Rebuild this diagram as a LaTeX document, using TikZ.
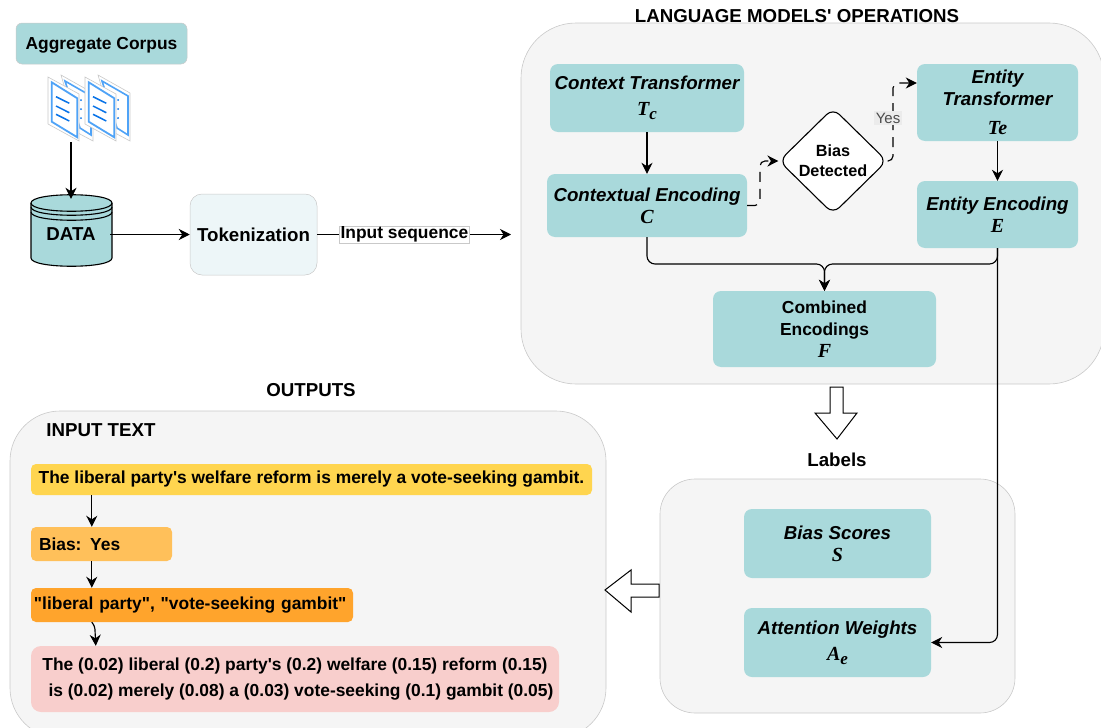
\documentclass[tikz,border=0pt]{standalone}
\usepackage{fontspec}
\setmainfont{Liberation Sans}[Ligatures=TeXOff]
\newfontfamily\symbfont[BoldItalicFont={Liberation Serif Bold Italic}]{Liberation Serif}
\usetikzlibrary{arrows.meta,shapes.geometric}
\definecolor{tealbox}{HTML}{A9D9DB}
\definecolor{panelgrey}{HTML}{F5F5F5}
\definecolor{panelline}{HTML}{C9C9C9}
\definecolor{tokenfill}{HTML}{EDF6F8}
\definecolor{pageblue}{HTML}{4FA3F7}
\definecolor{lineblue}{HTML}{0A74E8}
\definecolor{inputyellow}{HTML}{FFD54F}
\definecolor{biasorange}{HTML}{FFC05A}
\definecolor{phraseorange}{HTML}{FFA42C}
\definecolor{weightpink}{HTML}{F8CECC}
\newcommand{\symb}[1]{{\symbfont\bfseries\itshape\fontsize{20}{22}\selectfont #1}}
\newcommand{\symbsub}[2]{{\symbfont\bfseries\itshape\fontsize{20}{22}\selectfont #1\raisebox{-4pt}{\fontsize{17}{20}\selectfont #2}}}
\tikzset{
  docpages/.pic={
    \draw[draw=panelline,fill=white,line width=.6pt] (13,0) -- (45,18) -- (45,66) -- (30,58) -- cycle;
    \draw[draw=pageblue,fill=white,line width=1.6pt] (17,6) -- (43,21) -- (43,60) -- (32,53) -- cycle;
    \fill[lineblue] (33,25) circle (1pt) (33,34) circle (1pt) (33,43) circle (1pt);
    \draw[draw=panelline,fill=white,line width=.6pt] (0,2) -- (31,19) -- (31,66) -- (0,49) -- cycle;
    \draw[draw=pageblue,fill=white,line width=1.8pt] (3.7,7.3) -- (29.3,23.3) -- (29.3,62.3) -- (3.7,46.7) -- cycle;
    \draw[draw=lineblue,line width=1.5pt] (8,21.7) -- (21.3,28.3) (8,31) -- (21.3,37.7) (8,39.3) -- (21.3,46);
  }
}
\begin{document}
\begin{tikzpicture}[x=1pt,y=-1pt,
    font=\fontsize{18.7}{22}\selectfont\bfseries,
    smalltext/.style={font=\fontsize{17.4}{22}\selectfont\bfseries},
    panel/.style={draw=panelline,fill=panelgrey,line width=.6pt},
    tealnode/.style={fill=tealbox,rounded corners=8pt,inner sep=0pt,align=center},
    outnode/.style={smalltext,rounded corners=5pt,inner sep=0pt,align=center},
    hollow/.style={draw=black,fill=white,line width=1pt},
    link/.style={draw=black,line width=1.15pt,-{Stealth[length=11pt,width=11pt,inset=3.5pt]}},
    dashlink/.style={link,dash pattern=on 10pt off 7pt,rounded corners=5pt}]
  \useasboundingbox (0,0) rectangle (1101,728);
  \draw[panel,rounded corners=55pt] (521,23) rectangle (1104,384);
  \draw[panel,rounded corners=35pt] (660,479) rectangle (1015,713);
  \draw[panel,rounded corners=50pt] (10,411) rectangle (606,738);
  \node[smalltext,fill=tealbox,draw=panelline,line width=.5pt,rounded corners=6pt,minimum width=171pt,minimum height=41pt,inner sep=0pt,text depth=0pt] (corpus) at (101.5,43.5) {Aggregate Corpus};
  \pic at (48,75) {docpages};
  \pic at (85,75) {docpages};
  \coordinate (docs) at (71,142);
  \draw[fill=tealbox,line width=1.1pt] (31,203) .. controls (31,192) and (112,192) .. (112,203) -- (112,258) .. controls (112,269) and (31,269) .. (31,258) -- cycle;
  \draw[line width=1.1pt] (31,203) .. controls (31,214) and (112,214) .. (112,203);
  \draw[line width=1.1pt] (31,207) .. controls (31,218) and (112,218) .. (112,207);
  \draw[line width=1.1pt] (31,212) .. controls (31,223) and (112,223) .. (112,212);
  \node[minimum width=78pt,minimum height=71pt,inner sep=0pt] (data) at (71,234.5) {DATA};
  \node[fill=tokenfill,draw=panelline,line width=.5pt,rounded corners=12pt,minimum width=127pt,minimum height=81pt,inner sep=0pt] (token) at (253.5,234.5) {Tokenization};
  \coordinate (modelsin) at (511,234.5);
  \node (modelstitle) at (797,16) {LANGUAGE MODELS' OPERATIONS};
  \node[tealnode,minimum width=194pt,minimum height=68pt] (ctxt) at (647,98) {\itshape Context Transformer\\[4pt]\symbsub{T}{c}};
  \node[tealnode,minimum width=200pt,minimum height=63pt] (cenc) at (647,205.5) {\itshape Contextual Encoding\\\symb{C}};
  \node[diamond,draw=black,fill=white,line width=1.1pt,rounded corners=9pt,minimum width=108pt,minimum height=106pt,inner sep=0pt,align=center,font=\fontsize{16.2}{20}\selectfont\bfseries] (biasdet) at (833,161) {Bias\\Detected};
  \node[tealnode,minimum width=161pt,minimum height=77pt] (etxt) at (997.5,102.5) {\itshape Entity\\\itshape Transformer\\[7pt]\symb{Te}};
  \node[tealnode,minimum width=161pt,minimum height=67pt] (eenc) at (997.5,214.5) {\itshape Entity Encoding\\\symb{E}};
  \node[tealnode,smalltext,minimum width=223pt,minimum height=76pt] (fenc) at (824.5,329) {Combined\\Encodings\\\symb{F}};
  \node (labels) at (837,460) {Labels};
  \node[tealnode,minimum width=187pt,minimum height=69pt] (scores) at (837.5,543.5) {\itshape Bias Scores\\\symb{S}};
  \node[tealnode,minimum width=187pt,minimum height=69pt,text depth=4pt] (attn) at (837.5,642.5) {\itshape Attention Weights\\[4pt]\symbsub{A}{e}};
  \node (outtitle) at (311,390) {OUTPUTS};
  \node (inputtitle) at (101,430) {INPUT TEXT};
  \node[outnode,fill=inputyellow,minimum width=561pt,minimum height=31pt] (inputbox) at (311.5,479.5) {The liberal party's welfare reform is merely a vote-seeking gambit.};
  \node[outnode,fill=biasorange,minimum width=141pt,minimum height=34pt,text width=125pt,align=left] (biasbox) at (101.5,544) {Bias: Yes};
  \node[outnode,fill=phraseorange,minimum width=322pt,minimum height=34pt,text width=316pt,align=left] (phrasebox) at (192,605) {"liberal party", "vote-seeking gambit"};
  \node[outnode,fill=weightpink,rounded corners=10pt,minimum width=528pt,minimum height=66pt] (weightbox) at (295,679) {The (0.02) liberal (0.2) party's (0.2) welfare (0.15) reform (0.15)\\[4pt]\hspace*{12pt}is (0.02) merely (0.08) a (0.03) vote-seeking (0.1) gambit (0.05)};
  \draw[hollow] (830,387) -- (843,387) -- (843,413) -- (857,413) -- (837,439) -- (815,413) -- (830,413) -- cycle;
  \draw[hollow] (659,584) -- (631,584) -- (631,570) -- (605,590) -- (631,612) -- (631,597) -- (659,597) -- cycle;
  \begin{scope}
    \draw[link] (docs) -- (data.north);
    \draw[link] (data.east) -- (token.west);
    \draw[link] (token.east) -- (modelsin) node[pos=.45,fill=white,draw=panelline,line width=.3pt,inner sep=1pt,smalltext] (inputseq) {Input sequence};
    \draw[link] (ctxt.south) -- (cenc.north);
    \draw[link] (etxt.south) -- (eenc.north);
    \draw[dashlink] (cenc.east) -- (760,205.5) -- (760,161) -- (biasdet.west);
    \draw[dashlink] (biasdet.east) -- (893,161) -- (893,83) -- (etxt.west |- 0,83);
    \node[fill=black!8,text=black!70,inner sep=1.5pt,font=\fontsize{15}{16}\selectfont] (yes) at (888,118) {Yes};
    \draw[link,rounded corners=8pt] (cenc.south) -- (647,264) -- (824.5,264) -- (fenc.north);
    \draw[link,rounded corners=8pt] (eenc.south) -- (997.5,264) -- (824.5,264) -- (fenc.north);
    \draw[link,rounded corners=8pt] (eenc.south) -- (997.5,642.5) -- (attn.east);
    \draw[link] ([xshift=61pt]inputbox.south west) -- ([xshift=61pt]biasbox.north west);
    \draw[link] ([xshift=61pt]biasbox.south west) -- ([xshift=61pt]phrasebox.north west);
    \draw[link,rounded corners=3pt] ([xshift=61pt]phrasebox.south west) -- ++(3,4) -- ([xshift=65pt]weightbox.north west);
  \end{scope}
\end{tikzpicture}
\end{document}
